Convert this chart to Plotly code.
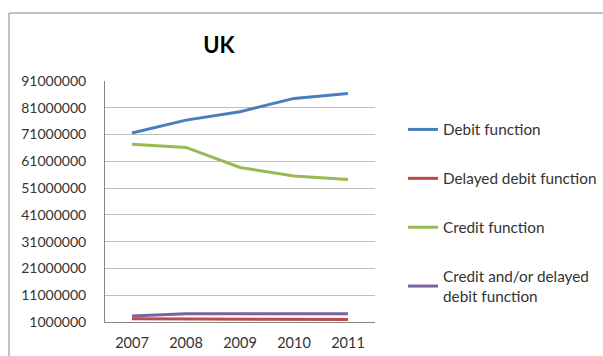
import plotly.graph_objects as go

years = ["2007", "2008", "2009", "2010", "2011"]
debit = [71600000, 76400000, 79500000, 84500000, 86300000]
delayed_debit = [2200000, 2100000, 2100000, 2050000, 1900000]
credit = [67400000, 66200000, 58700000, 55500000, 54200000]
credit_delayed = [3200000, 4100000, 4100000, 4100000, 4100000]
y_ticks = [1000000, 11000000, 21000000, 31000000, 41000000, 51000000,
           61000000, 71000000, 81000000, 91000000]

series = [
    ("Debit function", debit, "#4A7EBB"),
    ("Delayed debit function", delayed_debit, "#BE4B48"),
    ("Credit function", credit, "#98B954"),
    ("Credit and/or delayed<br>debit function", credit_delayed, "#7D60A0"),
]

fig = go.Figure()
for i, (name, vals, col) in enumerate(series):
    fig.add_trace(go.Scatter(x=years, y=vals, name=name, mode="lines",
                             line=dict(color=col, width=3),
                             legendgroup=str(i)))

font = "Lato, 'Open Sans', sans-serif"
fig.update_layout(
    width=603, height=356,
    margin=dict(l=105, r=228, t=81, b=34, autoexpand=False),
    paper_bgcolor="white", plot_bgcolor="white",
    font=dict(family=font, size=14, color="#333333"),
    title=dict(text="<b>UK</b>", x=(219) / 603, xanchor="center",
               y=1 - 45 / 356, yanchor="middle",
               font=dict(size=22, color="black", family=font)),
    xaxis=dict(type="category", showgrid=False, showline=True,
               linecolor="#868686", linewidth=1, ticks="", automargin=False,
               ticklabelstandoff=8, range=[-0.5, 4.5],
               tickfont=dict(size=14.5)),
    yaxis=dict(range=[1000000, 91000000], tickvals=y_ticks,
               ticktext=[str(v) for v in y_ticks], automargin=False,
               showgrid=True, gridcolor="#BFBFBF", gridwidth=1,
               showline=True, linecolor="#868686", linewidth=1,
               ticks="", ticklabelstandoff=15, zeroline=False,
               tickfont=dict(size=14)),
    legend=dict(x=(408 - 105 - 5) / 270, y=(322 - 113) / 241,
                xanchor="left", yanchor="top",
                tracegroupgap=26, font=dict(size=15.3, color="#333333"),
                bgcolor="rgba(0,0,0,0)", itemwidth=30),
    showlegend=True,
)

# chart area border
fig.add_shape(type="rect", xref="paper", yref="paper",
              x0=(9 - 105) / 270, x1=(620 - 105) / 270,
              y0=(322 - 370) / 241, y1=(322 - 13) / 241,
              line=dict(color="#868686", width=1), layer="below")

fig.write_html("out.html")
